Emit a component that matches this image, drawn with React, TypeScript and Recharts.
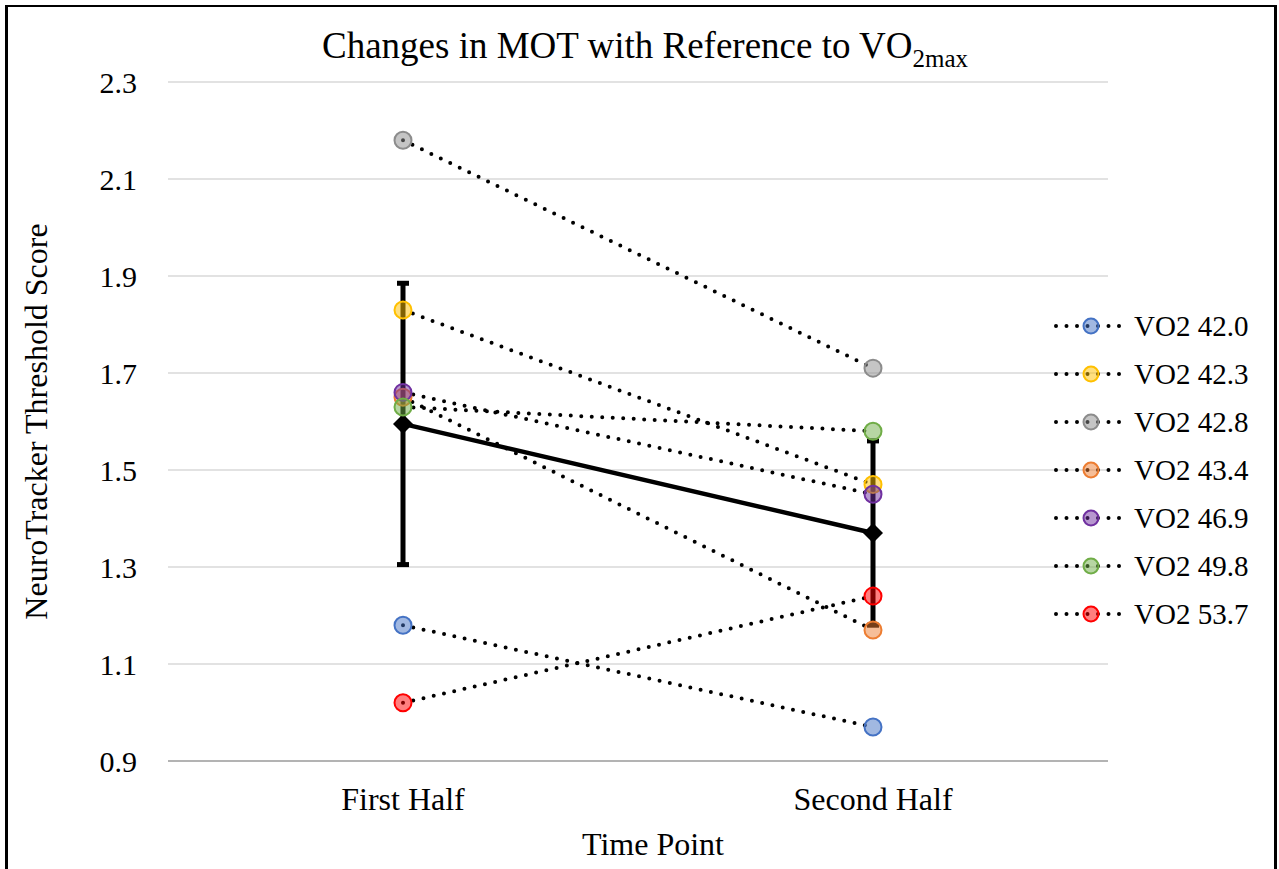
import React from "react";
import {
  ComposedChart,
  Line,
  XAxis,
  YAxis,
  CartesianGrid,
  ErrorBar,
} from "recharts";

const FONT = '"Liberation Serif", "Times New Roman", serif';

const categories = ["First Half", "Second Half"];
const yTicks = [0.9, 1.1, 1.3, 1.5, 1.7, 1.9, 2.1, 2.3];

// group mean and its error
const meanScore = [1.595, 1.37];
const meanError = [0.29, 0.19];

// individual subjects, by VO2max
const vo2_420 = [1.18, 0.97];
const vo2_423 = [1.83, 1.47];
const vo2_428 = [2.18, 1.71];
const vo2_434 = [1.65, 1.17];
const vo2_469 = [1.66, 1.45];
const vo2_498 = [1.63, 1.58];
const vo2_537 = [1.02, 1.24];

const subjects = [
  { key: "s420", name: "VO2 42.0", values: vo2_420, color: "#4472C4" },
  { key: "s423", name: "VO2 42.3", values: vo2_423, color: "#FFC000" },
  { key: "s428", name: "VO2 42.8", values: vo2_428, color: "#8C8C8C" },
  { key: "s434", name: "VO2 43.4", values: vo2_434, color: "#ED7D31" },
  { key: "s469", name: "VO2 46.9", values: vo2_469, color: "#7030A0" },
  { key: "s498", name: "VO2 49.8", values: vo2_498, color: "#70AD47" },
  { key: "s537", name: "VO2 53.7", values: vo2_537, color: "#FF0000" },
];

const data = categories.map((c, i) => {
  const row: Record<string, number | string> = {
    time: c,
    mean: meanScore[i],
    err: meanError[i],
  };
  subjects.forEach((s) => {
    row[s.key] = s.values[i];
  });
  return row;
});

const Diamond = (props: any) => {
  const { cx, cy } = props;
  if (cx == null || cy == null) return null;
  const r = 10;
  return (
    <polygon
      points={`${cx},${cy - r} ${cx + r},${cy} ${cx},${cy + r} ${cx - r},${cy}`}
      fill="#000"
    />
  );
};

const makeDot = (color: string) => (props: any) => {
  const { cx, cy, index } = props;
  if (cx == null || cy == null) return null;
  return (
    <circle
      key={index}
      cx={cx}
      cy={cy}
      r={8.5}
      fill={color}
      fillOpacity={0.5}
      stroke={color}
      strokeWidth={2}
    />
  );
};

function SubjectLegend() {
  return (
    <div
      style={{
        position: "absolute",
        left: 1052,
        top: 302,
        fontFamily: FONT,
        fontSize: 29,
        color: "#000",
      }}
    >
      {subjects.map((s) => (
        <div
          key={s.key}
          style={{ display: "flex", alignItems: "center", height: 48 }}
        >
          <svg width={80} height={24} style={{ marginRight: 2 }}>
            <line
              x1={4}
              y1={12}
              x2={72}
              y2={12}
              stroke="#000"
              strokeWidth={4}
              strokeDasharray="0 10.5"
              strokeLinecap="round"
            />
            <circle
              cx={39}
              cy={12}
              r={7.5}
              fill={s.color}
              fillOpacity={0.5}
              stroke={s.color}
              strokeWidth={2}
            />
          </svg>
          <span>{s.name}</span>
        </div>
      ))}
    </div>
  );
}

export default function App() {
  return (
    <div
      style={{
        position: "absolute",
        left: 0,
        top: 0,
        width: 1279,
        height: 869,
        overflow: "hidden",
        background: "#fff",
        fontFamily: FONT,
      }}
    >
      <div
        style={{
          position: "absolute",
          left: 5,
          top: 5,
          width: 1266,
          height: 900,
          borderLeft: "3px solid #000",
          borderTop: "2px solid #000",
          borderRight: "3px solid #000",
        }}
      />
      <div
        style={{
          position: "absolute",
          left: 0,
          width: 1290,
          top: 24,
          textAlign: "center",
          fontSize: 37,
          color: "#000",
          lineHeight: "44px",
        }}
      >
        Changes in MOT with Reference to VO
        <sub style={{ fontSize: 25, verticalAlign: "-9px" }}>2max</sub>
      </div>
      <div style={{ position: "absolute", left: 0, top: 0 }}>
        <ComposedChart
          width={1279}
          height={869}
          data={data}
          margin={{ top: 82, right: 171, bottom: 0, left: 0 }}
        >
          <CartesianGrid vertical={false} stroke="#d9d9d9" strokeWidth={1.5} />
          <XAxis
            dataKey="time"
            scale="band"
            height={108}
            axisLine={{ stroke: "#b3b3b3", strokeWidth: 2 }}
            tickLine={false}
            tickSize={0}
            tickMargin={26}
            tick={{ fill: "#000", fontSize: 32, fontFamily: FONT }}
            label={{
              value: "Time Point",
              position: "insideBottom",
              offset: 14,
              dx: 15,
              fill: "#000",
              fontSize: 32,
              fontFamily: FONT,
            }}
          />
          <YAxis
            width={168}
            domain={[0.9, 2.3]}
            ticks={yTicks}
            axisLine={false}
            tickLine={false}
            tickSize={0}
            tickMargin={31}
            tickFormatter={(v: number) => v.toFixed(1)}
            tick={{ fill: "#000", fontSize: 30, fontFamily: FONT }}
            label={{
              value: "NeuroTracker Threshold Score",
              angle: -90,
              position: "insideLeft",
              offset: 0,
              dx: 36,
              fill: "#000",
              fontSize: 32,
              fontFamily: FONT,
              style: { textAnchor: "middle" },
            }}
          />
          <Line
            dataKey="mean"
            stroke="#000"
            strokeWidth={4.5}
            dot={<Diamond />}
            activeDot={false}
            legendType="none"
            isAnimationActive={false}
          >
            <ErrorBar
              dataKey="err"
              direction="y"
              width={6}
              stroke="#000"
              strokeWidth={5}
            />
          </Line>
          {subjects.map((s) => (
            <Line
              key={s.key}
              dataKey={s.key}
              name={s.name}
              stroke="#000"
              strokeWidth={4}
              strokeDasharray="0 10.5"
              strokeLinecap="round"
              dot={makeDot(s.color)}
              activeDot={false}
              isAnimationActive={false}
            />
          ))}
        </ComposedChart>
      </div>
      <SubjectLegend />
    </div>
  );
}
